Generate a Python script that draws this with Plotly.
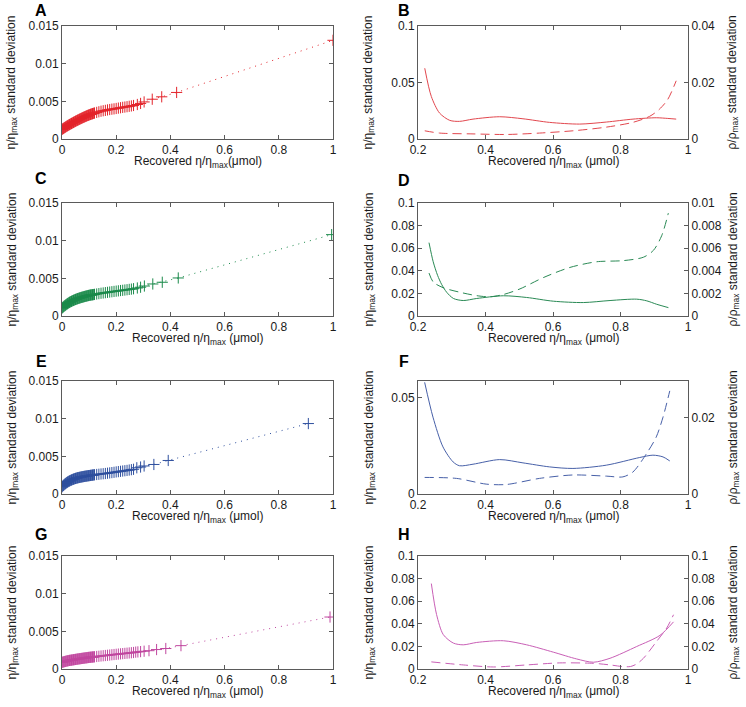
import plotly.graph_objects as go

# ---------------- data ----------------
band_x = [0.0000,0.0025,0.0050,0.0075,0.0100,0.0125,0.0150,0.0175,0.0200,0.0225,
          0.0250,0.0275,0.0300,0.0325,0.0350,0.0375,0.0400,0.0425,0.0450,0.0475,
          0.0500,0.0525,0.0550,0.0575,0.0600,0.0625,0.0650,0.0675,0.0700,0.0725,
          0.0750,0.0775,0.0800,0.0825,0.0850,0.0875,0.0900,0.0925,0.0950,0.0975,
          0.1000,0.1025,0.1050,0.1075,0.1100,0.1125,0.1150,0.1175,0.1200,
          0.128,0.136,0.144,0.152,0.160,0.168,0.176,0.184,0.192,0.200,
          0.208,0.216,0.224,0.232,0.240,0.248,0.256,0.264]

A_band_y = [0.00128,0.00134,0.00140,0.00146,0.00152,0.00158,0.00164,0.00170,0.00175,0.00180,
            0.00186,0.00191,0.00196,0.00201,0.00206,0.00211,0.00216,0.00221,0.00226,0.00231,
            0.00236,0.00241,0.00245,0.00250,0.00254,0.00259,0.00263,0.00268,0.00272,0.00276,
            0.00281,0.00285,0.00289,0.00293,0.00297,0.00301,0.00305,0.00309,0.00313,0.00316,
            0.00320,0.00323,0.00327,0.00330,0.00333,0.00336,0.00339,0.00342,0.00345,
            0.00353,0.00361,0.00369,0.00375,0.00380,0.00386,0.00391,0.00396,0.00400,0.00405,
            0.00410,0.00415,0.00420,0.00424,0.00429,0.00434,0.00439,0.00445]
A_tail_x = [0.278,0.290,0.303,0.333,0.368,0.423,1.000]
A_tail_y = [0.00458,0.00472,0.00492,0.00528,0.00560,0.00618,0.01310]

C_band_y = [0.00105,0.00113,0.00121,0.00129,0.00136,0.00143,0.00150,0.00157,0.00163,0.00169,
            0.00175,0.00181,0.00186,0.00191,0.00195,0.00200,0.00204,0.00208,0.00212,0.00216,
            0.00220,0.00223,0.00227,0.00230,0.00233,0.00236,0.00239,0.00242,0.00245,0.00248,
            0.00250,0.00253,0.00255,0.00258,0.00260,0.00263,0.00265,0.00267,0.00270,0.00272,
            0.00274,0.00276,0.00278,0.00279,0.00281,0.00282,0.00284,0.00285,0.00287,
            0.00292,0.00297,0.00302,0.00306,0.00310,0.00314,0.00318,0.00322,0.00326,0.00330,
            0.00334,0.00338,0.00341,0.00345,0.00349,0.00353,0.00357,0.00362]
C_tail_x = [0.278,0.290,0.304,0.335,0.370,0.429,0.995]
C_tail_y = [0.00372,0.00382,0.00398,0.00425,0.00448,0.00505,0.01080]

E_band_y = [0.00095,0.00105,0.00114,0.00122,0.00130,0.00137,0.00144,0.00151,0.00158,0.00163,
            0.00168,0.00173,0.00178,0.00182,0.00186,0.00190,0.00194,0.00197,0.00201,0.00204,
            0.00207,0.00210,0.00212,0.00215,0.00217,0.00219,0.00221,0.00223,0.00225,0.00227,
            0.00229,0.00230,0.00232,0.00234,0.00235,0.00237,0.00238,0.00240,0.00241,0.00243,
            0.00244,0.00245,0.00247,0.00248,0.00249,0.00251,0.00252,0.00254,0.00255,
            0.00259,0.00262,0.00266,0.00269,0.00272,0.00276,0.00280,0.00284,0.00288,0.00293,
            0.00297,0.00301,0.00305,0.00309,0.00313,0.00318,0.00323,0.00328]
E_tail_x = [0.276,0.290,0.303,0.339,0.392,0.909]
E_tail_y = [0.00348,0.00358,0.00372,0.00392,0.00445,0.00935]

G_band_y = [0.00088,0.00091,0.00094,0.00096,0.00099,0.00101,0.00104,0.00106,0.00108,0.00110,
            0.00112,0.00114,0.00115,0.00117,0.00118,0.00120,0.00121,0.00123,0.00124,0.00126,
            0.00127,0.00129,0.00130,0.00132,0.00133,0.00135,0.00136,0.00137,0.00139,0.00140,
            0.00141,0.00143,0.00144,0.00145,0.00147,0.00148,0.00149,0.00150,0.00152,0.00153,
            0.00154,0.00155,0.00156,0.00157,0.00158,0.00159,0.00160,0.00161,0.00162,
            0.00166,0.00169,0.00173,0.00176,0.00179,0.00182,0.00185,0.00189,0.00192,0.00195,
            0.00198,0.00201,0.00204,0.00207,0.00210,0.00213,0.00216,0.00219]
G_tail_x = [0.272,0.280,0.290,0.303,0.321,0.349,0.383,0.439,0.989]
G_tail_y = [0.00224,0.00227,0.00231,0.00236,0.00243,0.00258,0.00272,0.00310,0.00690]

B_sx = [0.220,0.2395,0.264,0.294,0.323,0.363,0.442,0.511,0.590,0.679,0.758,0.837,0.906,0.940,0.965]
B_sy = [0.0626,0.0376,0.0229,0.0165,0.0156,0.0176,0.0197,0.0179,0.0147,0.0132,0.0150,0.0176,0.0188,0.0182,0.0176]
B_dx = [0.220,0.264,0.363,0.462,0.560,0.659,0.758,0.837,0.886,0.915,0.940,0.965]
B_dy = [0.0029,0.0021,0.0018,0.0016,0.0021,0.0029,0.0042,0.0059,0.0080,0.0105,0.0140,0.0206]

D_sx = [0.2326,0.245,0.258,0.270,0.285,0.305,0.334,0.374,0.453,0.522,0.601,0.690,0.769,0.848,0.878,0.907,0.942]
D_sy = [0.0649,0.0480,0.0360,0.0280,0.0210,0.0155,0.0137,0.0155,0.0179,0.0164,0.0131,0.0119,0.0137,0.0149,0.0134,0.0104,0.0074]
D_dx = [0.2326,0.2454,0.275,0.3244,0.3738,0.4133,0.4528,0.5022,0.5714,0.6504,0.7294,0.8084,0.8677,0.8973,0.922,0.9417]
D_dy = [0.0038,0.0030,0.0025,0.0021,0.0018,0.0017,0.0019,0.0024,0.0034,0.0043,0.0048,0.0049,0.0052,0.0058,0.0071,0.0091]

F_sx = [0.2197,0.2444,0.274,0.304,0.323,0.363,0.442,0.511,0.590,0.659,0.758,0.857,0.896,0.926,0.946]
F_sy = [0.0581,0.0400,0.0245,0.0167,0.0147,0.0155,0.0179,0.0162,0.0141,0.0133,0.0150,0.0190,0.0202,0.0193,0.0172]
F_dx = [0.2197,0.314,0.402,0.462,0.560,0.659,0.758,0.807,0.837,0.877,0.906,0.926,0.946]
F_dy = [0.00435,0.0041,0.0026,0.0025,0.0041,0.0050,0.0047,0.0045,0.0058,0.0106,0.0150,0.0202,0.0271]

H_sx = [0.2395,0.255,0.275,0.305,0.334,0.374,0.453,0.522,0.601,0.670,0.720,0.769,0.848,0.917,0.957]
H_sy = [0.0756,0.0482,0.0304,0.0229,0.0214,0.0235,0.0250,0.0214,0.0149,0.0089,0.0060,0.0095,0.0199,0.0298,0.0417]
H_dx = [0.2395,0.334,0.423,0.522,0.620,0.720,0.769,0.808,0.830,0.848,0.868,0.907,0.937,0.957]
H_dy = [0.0063,0.0036,0.0018,0.0036,0.0054,0.0050,0.0036,0.0021,0.0022,0.0045,0.0095,0.0244,0.0363,0.0480]

panel_letters = ['A', 'B', 'C', 'D', 'E', 'F', 'G', 'H']
left_ticks = [0, 0.005, 0.01, 0.015]
left_ticktext = ['0', '0.005', '0.01', '0.015']
x_left_ticks = [0, 0.2, 0.4, 0.6, 0.8, 1]
x_right_ticks = [0.2, 0.4, 0.6, 0.8, 1]

# ---------------- styling / layout ----------------
W, H = 746, 707
FONT = 'Liberation Sans, Arial, Helvetica, sans-serif'
AXC = '#5a5a5a'
TXT = '#1a1a1a'

def px(x): return x / W
def py(y): return 1 - y / H

COLS = {'L': (62, 333), 'R': (418, 688)}
ROWS = [(26, 139), (203, 316), (381, 494), (556, 669)]

mark_col = ['#e3242b', '#1b8a4b', '#2e4f9e', '#c0479f']
line_col = ['#e2474e', '#2a8a55', '#4760a8', '#c95fb6']

fig = go.Figure()
layout = dict(width=W, height=H, margin=dict(l=0, r=0, t=0, b=0, pad=0), autosize=False,
              paper_bgcolor='white', plot_bgcolor='white', showlegend=False,
              font=dict(family=FONT, size=12, color=TXT))
annotations = []

def base_axis(**kw):
    d = dict(showline=True, linecolor=AXC, linewidth=1, ticks='inside', ticklen=4,
             tickcolor=AXC, tickwidth=1, showgrid=False, zeroline=False, automargin=False,
             tickfont=dict(family=FONT, size=12, color=TXT))
    d.update(kw)
    return d

left_data = [(band_x + A_tail_x, A_band_y + A_tail_y),
             (band_x + C_tail_x, C_band_y + C_tail_y),
             (band_x + E_tail_x, E_band_y + E_tail_y),
             (band_x + G_tail_x, G_band_y + G_tail_y)]
right_data = [
    (B_sx, B_sy, B_dx, B_dy, [0, 0.1], [0, 0.05, 0.1], ['0', '0.05', '0.1'], [0, 0.04], [0, 0.02, 0.04], ['0', '0.02', '0.04']),
    (D_sx, D_sy, D_dx, D_dy, [0, 0.1], [0, 0.02, 0.04, 0.06, 0.08, 0.1], ['0', '0.02', '0.04', '0.06', '0.08', '0.1'],
     [0, 0.01], [0, 0.002, 0.004, 0.006, 0.008, 0.01], ['0', '0.002', '0.004', '0.006', '0.008', '0.01']),
    (F_sx, F_sy, F_dx, F_dy, [0, 0.0588], [0, 0.05], ['0', '0.05'], [0, 0.0297], [0, 0.02], ['0', '0.02']),
    (H_sx, H_sy, H_dx, H_dy, [0, 0.1], [0, 0.02, 0.04, 0.06, 0.08, 0.1], ['0', '0.02', '0.04', '0.06', '0.08', '0.1'],
     [0, 0.1], [0, 0.02, 0.04, 0.06, 0.08, 0.1], ['0', '0.02', '0.04', '0.06', '0.08', '0.1']),
]

letter_pos = [(41, 11), (404, 11), (41, 179), (404, 180), (41, 361), (404, 361), (41, 534), (404, 534)]

ytitle_eta = 'η/η<sub>max</sub> standard deviation'
ytitle_rho = 'ρ/ρ<sub>max</sub> standard deviation'

for r in range(4):
    top, bot = ROWS[r]
    ydom = [py(bot), py(top)]
    # ---- left panel ----
    n = 2 * r + 1
    xs, ys = left_data[r]
    xa = 'x' if n == 1 else f'x{n}'
    ya = 'y' if n == 1 else f'y{n}'
    fig.add_trace(go.Scatter(x=xs, y=ys, xaxis=xa, yaxis=ya, mode='lines+markers',
                             line=dict(color=mark_col[r], width=1, dash='1px,5px'),
                             marker=dict(symbol='cross-thin', size=8, color=mark_col[r],
                                         line=dict(width=1, color=mark_col[r])),
                             hoverinfo='skip'))
    L0, L1 = COLS['L']
    layout[f'xaxis{n}' if n > 1 else 'xaxis'] = base_axis(domain=[px(L0), px(L1)], range=[0, 1],
        tickvals=x_left_ticks, ticktext=['0', '0.2', '0.4', '0.6', '0.8', '1'], anchor=ya, mirror='ticks')
    layout[f'yaxis{n}' if n > 1 else 'yaxis'] = base_axis(domain=ydom, range=[0, 0.015],
        tickvals=left_ticks, ticktext=left_ticktext, anchor=xa, mirror='ticks')
    xt = 'Recovered η/η<sub>max</sub>(μmol)' if r == 0 else 'Recovered η/η<sub>max</sub> (μmol)'
    annotations.append(dict(text=xt, x=px((L0 + L1) / 2), y=py(bot + 13), xref='paper', yref='paper',
                            xanchor='center', yanchor='top', showarrow=False, font=dict(size=12)))
    annotations.append(dict(text=ytitle_eta, x=px(12), y=py((top + bot) / 2), xref='paper', yref='paper',
                            xanchor='center', yanchor='middle', textangle=-90, showarrow=False, font=dict(size=12)))

    # ---- right panel ----
    n = 2 * r + 2
    sx, sy, dx, dy, lr, lt, ltt, rr, rt, rtt = right_data[r]
    xa = f'x{n}'
    ya = f'y{n}'
    ya2 = f'y{9 + r}'
    fig.add_trace(go.Scatter(x=sx, y=sy, xaxis=xa, yaxis=ya, mode='lines',
                             line=dict(color=line_col[r], width=1, shape='spline', smoothing=0.8),
                             hoverinfo='skip'))
    fig.add_trace(go.Scatter(x=dx, y=dy, xaxis=xa, yaxis=ya2, mode='lines',
                             line=dict(color=line_col[r], width=1, dash='9px,5px', shape='spline', smoothing=0.8),
                             hoverinfo='skip'))
    R0, R1 = COLS['R']
    layout[f'xaxis{n}'] = base_axis(domain=[px(R0), px(R1)], range=[0.2, 1],
        tickvals=x_right_ticks, ticktext=['0.2', '0.4', '0.6', '0.8', '1'], anchor=ya, mirror='ticks')
    layout[f'yaxis{n}'] = base_axis(domain=ydom, range=lr, tickvals=lt, ticktext=ltt, anchor=xa, mirror=True)
    layout[f'yaxis{9 + r}'] = base_axis(range=rr, tickvals=rt, ticktext=rtt, overlaying=ya, side='right',
                                        anchor=xa)
    annotations.append(dict(text='Recovered η/η<sub>max</sub> (μmol)', x=px((R0 + R1) / 2), y=py(bot + 13),
                            xref='paper', yref='paper', xanchor='center', yanchor='top', showarrow=False,
                            font=dict(size=12)))
    annotations.append(dict(text=ytitle_eta, x=px(369), y=py((top + bot) / 2), xref='paper', yref='paper',
                            xanchor='center', yanchor='middle', textangle=-90, showarrow=False, font=dict(size=12)))
    annotations.append(dict(text=ytitle_rho, x=px(733), y=py((top + bot) / 2), xref='paper', yref='paper',
                            xanchor='center', yanchor='middle', textangle=-90, showarrow=False, font=dict(size=12)))

for i, letter in enumerate(panel_letters):
    lx, ly = letter_pos[i]
    annotations.append(dict(text=f'<b>{letter}</b>', x=px(lx), y=py(ly), xref='paper', yref='paper',
                            xanchor='center', yanchor='middle', showarrow=False,
                            font=dict(size=16, color='black', family=FONT)))

layout['annotations'] = annotations
fig.update_layout(**layout)
fig.write_html('out.html', config={'displayModeBar': False},
               post_script="document.body.style.margin='0px';document.body.style.padding='0px';")
